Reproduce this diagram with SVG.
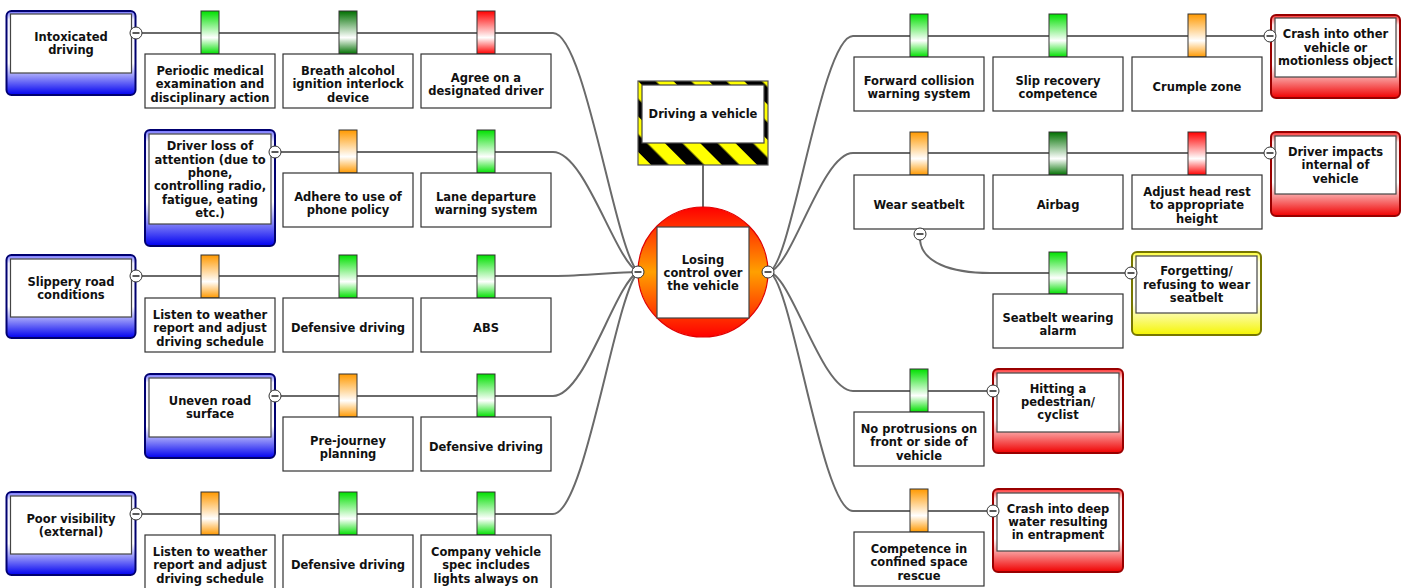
<svg xmlns="http://www.w3.org/2000/svg" xmlns:xlink="http://www.w3.org/1999/xlink" width="1407" height="588" viewBox="0 0 1407 588">
<style>
text{font-family:"DejaVu Sans",Verdana,sans-serif;font-weight:bold;font-size:11.5px;text-anchor:middle;fill:#111}
.ln{fill:none;stroke:#6a6a6a;stroke-width:2}
.bx{fill:#fff;stroke:#333;stroke-width:1.2}
.in{fill:#fff;stroke:#444;stroke-width:1.2}
.bar{stroke:#333;stroke-width:1}
.thr{fill:url(#gBlue);stroke:#000070;stroke-width:2}
.con{fill:url(#gRed);stroke:#900;stroke-width:2}
.yel{fill:url(#gYel);stroke:#777700;stroke-width:2}
.g{fill:url(#bGreen)}.dg{fill:url(#bDark)}.o{fill:url(#bOrange)}.r{fill:url(#bRed)}
</style>
<defs>
<linearGradient id="gBlue" x1="0" y1="0" x2="0" y2="1"><stop offset="0" stop-color="#7070ff"/><stop offset="0.1" stop-color="#f0f0ff"/><stop offset="0.62" stop-color="#ffffff"/><stop offset="1" stop-color="#0000f0"/></linearGradient>
<linearGradient id="gRed" x1="0" y1="0" x2="0" y2="1"><stop offset="0" stop-color="#ff3030"/><stop offset="0.12" stop-color="#ffe8e8"/><stop offset="0.6" stop-color="#ffffff"/><stop offset="1" stop-color="#f00000"/></linearGradient>
<linearGradient id="gYel" x1="0" y1="0" x2="0" y2="1"><stop offset="0" stop-color="#ffff30"/><stop offset="0.12" stop-color="#ffffe0"/><stop offset="0.6" stop-color="#ffffff"/><stop offset="1" stop-color="#f5f500"/></linearGradient>
<linearGradient id="bGreen" x1="0" y1="0" x2="0" y2="1"><stop offset="0" stop-color="#00e000"/><stop offset="0.62" stop-color="#ffffff"/><stop offset="1" stop-color="#00e000"/></linearGradient>
<linearGradient id="bDark" x1="0" y1="0" x2="0" y2="1"><stop offset="0" stop-color="#007000"/><stop offset="0.62" stop-color="#ffffff"/><stop offset="1" stop-color="#007000"/></linearGradient>
<linearGradient id="bOrange" x1="0" y1="0" x2="0" y2="1"><stop offset="0" stop-color="#ff9900"/><stop offset="0.62" stop-color="#ffffff"/><stop offset="1" stop-color="#ff9900"/></linearGradient>
<linearGradient id="bRed" x1="0" y1="0" x2="0" y2="1"><stop offset="0" stop-color="#ff0000"/><stop offset="0.62" stop-color="#ffffff"/><stop offset="1" stop-color="#ff0000"/></linearGradient>
<linearGradient id="gTop" x1="0" y1="0" x2="0" y2="1"><stop offset="0" stop-color="#ff0000"/><stop offset="0.5" stop-color="#ffa000"/><stop offset="1" stop-color="#ff0000"/></linearGradient>
<pattern id="haz" patternUnits="userSpaceOnUse" width="25" height="25" patternTransform="translate(638,81) rotate(-45)"><rect width="25" height="25" fill="#ffff00"/><rect width="12.5" height="25" fill="#000"/></pattern>
<g id="col"><circle r="6" fill="#fff" stroke="#333" stroke-width="1"/><line x1="-3.5" y1="0" x2="3.5" y2="0" stroke="#222" stroke-width="1.5"/></g>
</defs>
<rect width="1407" height="588" fill="#fff"/>

<g id="connectors">
<line class="ln" x1="703" y1="165" x2="703" y2="208"/>
<path class="ln" d="M142,33 H553 C585,33 615,250 638,272"/>
<path class="ln" d="M281,152 H553 C585,152 615,260 638,272"/>
<path class="ln" d="M142,276 H553 C585,276 615,272 638,272"/>
<path class="ln" d="M281,396 H553 C585,396 615,284 638,272"/>
<path class="ln" d="M142,514 H553 C585,514 615,296 638,272"/>
<path class="ln" d="M768,272 C791,272 821,36 853,36 H1264"/>
<path class="ln" d="M768,272 C791,272 821,153 853,153 H1264"/>
<path class="ln" d="M768,272 C791,272 821,391 853,391 H987"/>
<path class="ln" d="M768,272 C791,272 821,511 853,511 H987"/>
<path class="ln" d="M920,240 C922,262 950,273 990,273 H1125"/>
</g>

<g id="hazard">
<rect x="638" y="81" width="130" height="84" fill="url(#haz)" stroke="#555" stroke-width="1.2"/>
<rect class="in" x="642" y="85" width="122" height="58"/>
<text x="703" y="118.2">Driving a vehicle</text>
</g>

<g id="top-event">
<circle cx="703" cy="272" r="65" fill="url(#gTop)" stroke="#e00000" stroke-width="1.2"/>
<rect class="in" x="657" y="227" width="92" height="91"/>
<text x="703" y="263.5">Losing</text>
<text x="703" y="276.9">control over</text>
<text x="703" y="290.3">the vehicle</text>
<use xlink:href="#col" x="638" y="272"/>
<use xlink:href="#col" x="768" y="272"/>
</g>

<!-- Threats -->
<g id="threat-intoxicated">
<rect class="thr" x="6.5" y="11" width="129" height="84" rx="5"/>
<rect class="in" x="10.5" y="14" width="121" height="59"/>
<text x="71" y="41">Intoxicated</text><text x="71" y="54.4">driving</text>
<use xlink:href="#col" x="136" y="33"/>
</g>
<g id="threat-attention">
<rect class="thr" x="145" y="130" width="130" height="116" rx="5"/>
<rect class="in" x="149" y="134" width="122" height="90"/>
<text x="210" y="150.2">Driver loss of</text><text x="210" y="163.6">attention (due to</text><text x="210" y="177">phone,</text><text x="210" y="190.4">controlling radio,</text><text x="210" y="203.8">fatigue, eating</text><text x="210" y="217.2">etc.)</text>
<use xlink:href="#col" x="275" y="152"/>
</g>
<g id="threat-slippery">
<rect class="thr" x="6.5" y="255" width="129" height="83" rx="5"/>
<rect class="in" x="10.5" y="259" width="121" height="58"/>
<text x="71" y="285.5">Slippery road</text><text x="71" y="298.9">conditions</text>
<use xlink:href="#col" x="136" y="276"/>
</g>
<g id="threat-uneven">
<rect class="thr" x="145" y="374" width="130" height="84" rx="5"/>
<rect class="in" x="149" y="378" width="122" height="59"/>
<text x="210" y="405">Uneven road</text><text x="210" y="418.4">surface</text>
<use xlink:href="#col" x="275" y="396"/>
</g>
<g id="threat-visibility">
<rect class="thr" x="6.5" y="492" width="129" height="83" rx="5"/>
<rect class="in" x="10.5" y="496" width="121" height="58"/>
<text x="71" y="522.8">Poor visibility</text><text x="71" y="536.2">(external)</text>
<use xlink:href="#col" x="136" y="514"/>
</g>

<!-- Left barriers -->
<g id="b-periodic"><rect class="bar g" x="201" y="11" width="18" height="43"/><rect class="bx" x="145" y="54" width="130" height="54"/>
<text x="210" y="74.8">Periodic medical</text><text x="210" y="88.2">examination and</text><text x="210" y="101.6">disciplinary action</text></g>
<g id="b-breath"><rect class="bar dg" x="339" y="11" width="18" height="43"/><rect class="bx" x="283" y="54" width="130" height="54"/>
<text x="348" y="74.8">Breath alcohol</text><text x="348" y="88.2">ignition interlock</text><text x="348" y="101.6">device</text></g>
<g id="b-designated"><rect class="bar r" x="477" y="11" width="18" height="43"/><rect class="bx" x="421" y="54" width="130" height="54"/>
<text x="486" y="81.5">Agree on a</text><text x="486" y="94.9">designated driver</text></g>

<g id="b-phone"><rect class="bar o" x="339" y="130" width="18" height="43"/><rect class="bx" x="283" y="173" width="130" height="54"/>
<text x="348" y="200.5">Adhere to use of</text><text x="348" y="213.9">phone policy</text></g>
<g id="b-lane"><rect class="bar g" x="477" y="130" width="18" height="43"/><rect class="bx" x="421" y="173" width="130" height="54"/>
<text x="486" y="200.5">Lane departure</text><text x="486" y="213.9">warning system</text></g>

<g id="b-weather1"><rect class="bar o" x="201" y="255" width="18" height="43"/><rect class="bx" x="145" y="298" width="130" height="54"/>
<text x="210" y="318.8">Listen to weather</text><text x="210" y="332.2">report and adjust</text><text x="210" y="345.6">driving schedule</text></g>
<g id="b-defensive1"><rect class="bar g" x="339" y="255" width="18" height="43"/><rect class="bx" x="283" y="298" width="130" height="54"/>
<text x="348" y="332.2">Defensive driving</text></g>
<g id="b-abs"><rect class="bar g" x="477" y="255" width="18" height="43"/><rect class="bx" x="421" y="298" width="130" height="54"/>
<text x="486" y="332.2">ABS</text></g>

<g id="b-prejourney"><rect class="bar o" x="339" y="374" width="18" height="43"/><rect class="bx" x="283" y="417" width="130" height="54"/>
<text x="348" y="444.5">Pre-journey</text><text x="348" y="457.9">planning</text></g>
<g id="b-defensive2"><rect class="bar g" x="477" y="374" width="18" height="43"/><rect class="bx" x="421" y="417" width="130" height="54"/>
<text x="486" y="451.2">Defensive driving</text></g>

<g id="b-weather2"><rect class="bar o" x="201" y="492" width="18" height="43"/><rect class="bx" x="145" y="535" width="130" height="54"/>
<text x="210" y="555.8">Listen to weather</text><text x="210" y="569.2">report and adjust</text><text x="210" y="582.6">driving schedule</text></g>
<g id="b-defensive3"><rect class="bar g" x="339" y="492" width="18" height="43"/><rect class="bx" x="283" y="535" width="130" height="54"/>
<text x="348" y="569.2">Defensive driving</text></g>
<g id="b-lights"><rect class="bar g" x="477" y="492" width="18" height="43"/><rect class="bx" x="421" y="535" width="130" height="54"/>
<text x="486" y="555.8">Company vehicle</text><text x="486" y="569.2">spec includes</text><text x="486" y="582.6">lights always on</text></g>

<!-- Right barriers -->
<g id="b-forward"><rect class="bar g" x="910" y="14" width="18" height="43"/><rect class="bx" x="854" y="57" width="130" height="54"/>
<text x="919" y="84.5">Forward collision</text><text x="919" y="97.9">warning system</text></g>
<g id="b-slip"><rect class="bar g" x="1049" y="14" width="18" height="43"/><rect class="bx" x="993" y="57" width="130" height="54"/>
<text x="1058" y="84.5">Slip recovery</text><text x="1058" y="97.9">competence</text></g>
<g id="b-crumple"><rect class="bar o" x="1188" y="14" width="18" height="43"/><rect class="bx" x="1132" y="57" width="130" height="54"/>
<text x="1197" y="91.2">Crumple zone</text></g>

<g id="b-seatbelt"><rect class="bar o" x="910" y="132" width="18" height="43"/><rect class="bx" x="854" y="175" width="130" height="54"/>
<text x="919" y="209.2">Wear seatbelt</text>
<use xlink:href="#col" x="920" y="234"/></g>
<g id="b-airbag"><rect class="bar dg" x="1049" y="132" width="18" height="43"/><rect class="bx" x="993" y="175" width="130" height="54"/>
<text x="1058" y="209.2">Airbag</text></g>
<g id="b-headrest"><rect class="bar r" x="1188" y="132" width="18" height="43"/><rect class="bx" x="1132" y="175" width="130" height="54"/>
<text x="1197" y="195.8">Adjust head rest</text><text x="1197" y="209.2">to appropriate</text><text x="1197" y="222.6">height</text></g>

<g id="b-alarm"><rect class="bar g" x="1049" y="252" width="18" height="42"/><rect class="bx" x="993" y="294" width="130" height="54"/>
<text x="1058" y="321.5">Seatbelt wearing</text><text x="1058" y="334.9">alarm</text></g>

<g id="b-protrusions"><rect class="bar g" x="910" y="369" width="18" height="43"/><rect class="bx" x="854" y="412" width="130" height="54"/>
<text x="919" y="432.8">No protrusions on</text><text x="919" y="446.2">front or side of</text><text x="919" y="459.6">vehicle</text></g>

<g id="b-confined"><rect class="bar o" x="910" y="489" width="18" height="43"/><rect class="bx" x="854" y="532" width="130" height="54"/>
<text x="919" y="552.8">Competence in</text><text x="919" y="566.2">confined space</text><text x="919" y="579.6">rescue</text></g>

<!-- Consequences -->
<g id="c-crash">
<rect class="con" x="1271" y="15" width="129" height="83" rx="5"/>
<rect class="in" x="1275" y="18" width="121" height="59"/>
<text x="1335.5" y="38.3">Crash into other</text><text x="1335.5" y="51.7">vehicle or</text><text x="1335.5" y="65.1">motionless object</text>
<use xlink:href="#col" x="1270" y="36"/>
</g>
<g id="c-internal">
<rect class="con" x="1271" y="132" width="129" height="84" rx="5"/>
<rect class="in" x="1275" y="136" width="121" height="58"/>
<text x="1335.5" y="155.8">Driver impacts</text><text x="1335.5" y="169.2">internal of</text><text x="1335.5" y="182.6">vehicle</text>
<use xlink:href="#col" x="1270" y="153"/>
</g>
<g id="c-forgetting">
<rect class="yel" x="1132" y="252" width="129" height="83" rx="5"/>
<rect class="in" x="1136" y="256" width="121" height="57"/>
<text x="1196.5" y="275.1">Forgetting/</text><text x="1196.5" y="288.5">refusing to wear</text><text x="1196.5" y="301.9">seatbelt</text>
<use xlink:href="#col" x="1131" y="273"/>
</g>
<g id="c-pedestrian">
<rect class="con" x="993" y="369" width="130" height="84" rx="5"/>
<rect class="in" x="997" y="373" width="122" height="59"/>
<text x="1058" y="392.5">Hitting a</text><text x="1058" y="405.9">pedestrian/</text><text x="1058" y="419.3">cyclist</text>
<use xlink:href="#col" x="993" y="391"/>
</g>
<g id="c-water">
<rect class="con" x="993" y="489" width="130" height="83" rx="5"/>
<rect class="in" x="997" y="493" width="122" height="58"/>
<text x="1058" y="512.5">Crash into deep</text><text x="1058" y="525.9">water resulting</text><text x="1058" y="539.3">in entrapment</text>
<use xlink:href="#col" x="993" y="511"/>
</g>
</svg>
